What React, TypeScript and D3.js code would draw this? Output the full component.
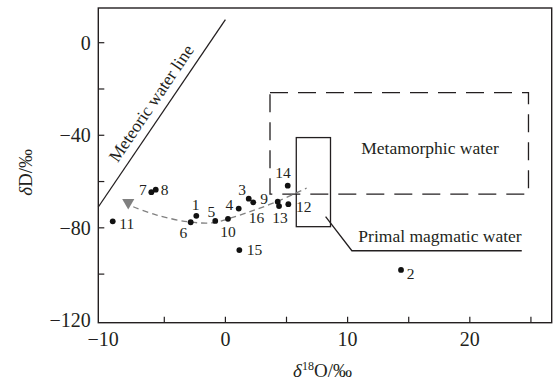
import * as d3 from 'd3'
import { useRef, useEffect } from 'react'

const W = 555, H = 383
const M = { top: 8, right: 3.3, bottom: 60.3, left: 98.3 }
const FONT = '"Liberation Serif", "Times New Roman", serif'
const INK = '#231f20'
const GREY = '#808080'

// samples: δ18O (‰) and δD (‰)
const SAMPLES = ['1', '2', '3', '4', '5', '6', '7', '8', '9', '10', '11', '12', '13', '14', '15', '16']
const D18O = [-2.38, 14.37, 1.91, 1.09, -0.83, -2.84, -6.06, -5.7, 4.28, 0.21, -9.22, 5.15, 4.39, 5.1, 1.14, 2.28]
const DD = [-74.8, -98.2, -67.4, -71.7, -77.0, -77.6, -64.6, -63.5, -68.7, -76.1, -77.2, -69.8, -70.6, -61.8, -89.6, -69.0]

// label placement next to each dot: [anchor, dx, dy] in px
const LABEL_POS: [string, number, number][] = [
  ['middle', -0.6, -5.7], ['start', 5.7, 9.3], ['end', -2.7, -3.4], ['end', -5.4, 1.3],
  ['middle', -4, -4.3], ['middle', -7.4, 15.4], ['end', -4.6, 2.4], ['start', 5, 5],
  ['end', -9.7, 2.3], ['middle', 0, 18.6], ['start', 6.6, 7.7], ['start', 7.7, 7.4],
  ['middle', 1, 17.3], ['middle', -4.7, -7.4], ['start', 7.4, 5], ['start', -4.6, 21],
]

// grey triangle (starting water) and evolution trend
const START_X = -7.95, START_Y = -69.1
const TREND_X = [-7.54, -5.62, -2.9, -0.99, 0.11, 2.01, 4.2, 6.65]
const TREND_Y = [-70.9, -74.5, -77.5, -77.8, -76.3, -73.0, -68.7, -62.8]

const METEORIC_X = [-10.4, 0]
const METEORIC_Y = [-71, 10]

const METAMORPHIC_X = [3.65, 24.8]
const METAMORPHIC_Y = [-65.4, -21.6]
const MAGMATIC_X = [5.8, 8.6]
const MAGMATIC_Y = [-79.5, -41]
const LEADER_X = [8.2, 10.35, 24.25]
const LEADER_Y = [-75.2, -89.9, -89.9]

const X_TICKS = [-5, 0, 5, 10, 15, 20, 25]
const X_LABELS = [-10, 0, 10, 20]
const Y_TICKS = [-100, -80, -60, -40, -20, 0]
const Y_LABELS = [-120, -80, -40, 0]

const fmt = (v: number) => (v < 0 ? '\u2212' + Math.abs(v) : String(v))

export default function App() {
  const svgRef = useRef<SVGSVGElement>(null)

  useEffect(() => {
    const svg = d3.select(svgRef.current)
    svg.selectAll('*').remove()

    const x = d3.scaleLinear().domain([-10.4, 26.7]).range([M.left, W - M.right])
    const y = d3.scaleLinear().domain([-121, 15]).range([H - M.bottom, M.top])

    // ticks (inward)
    X_TICKS.forEach((t) => svg.append('line').attr('x1', x(t)).attr('x2', x(t)).attr('y1', H - M.bottom).attr('y2', H - M.bottom - 6)
      .attr('stroke', INK).attr('stroke-width', 1.2))
    Y_TICKS.forEach((t) => svg.append('line').attr('x1', M.left).attr('x2', M.left + 6).attr('y1', y(t)).attr('y2', y(t))
      .attr('stroke', INK).attr('stroke-width', 1.2))

    X_LABELS.forEach((t) => svg.append('text').attr('x', x(t)).attr('y', 346).attr('text-anchor', 'middle')
      .attr('font-family', FONT).attr('font-size', 20).attr('fill', INK).text(fmt(t)))
    Y_LABELS.forEach((t) => svg.append('text').attr('x', M.left - 7.5).attr('y', y(t)).attr('dy', '0.34em').attr('text-anchor', 'end')
      .attr('font-family', FONT).attr('font-size', 20).attr('fill', INK).text(fmt(t)))

    // frame
    svg.append('rect').attr('x', M.left).attr('y', M.top).attr('width', W - M.left - M.right).attr('height', H - M.top - M.bottom)
      .attr('fill', 'none').attr('stroke', INK).attr('stroke-width', 1.4)

    // axis titles
    const xt = svg.append('text').attr('x', 322.5).attr('y', 376.5).attr('text-anchor', 'middle')
      .attr('font-family', FONT).attr('font-size', 19).attr('fill', INK)
    xt.append('tspan').attr('font-style', 'italic').text('δ')
    xt.append('tspan').attr('font-size', 12).attr('dy', -7).text('18')
    xt.append('tspan').attr('dy', 7).text('O/‰')

    const yt = svg.append('text').attr('transform', 'translate(31.5,172.3) rotate(-90)').attr('text-anchor', 'middle')
      .attr('font-family', FONT).attr('font-size', 19).attr('fill', INK)
    yt.append('tspan').attr('font-style', 'italic').text('δ')
    yt.append('tspan').text('D/‰')

    // meteoric water line
    const mx0 = x(METEORIC_X[0]), my0 = y(METEORIC_Y[0]), mx1 = x(METEORIC_X[1]), my1 = y(METEORIC_Y[1])
    svg.append('line').attr('x1', mx0).attr('y1', my0).attr('x2', mx1).attr('y2', my1).attr('stroke', INK).attr('stroke-width', 1.3)
    const ang = (Math.atan2(my1 - my0, mx1 - mx0) * 180) / Math.PI
    const fx = mx0 + (mx1 - mx0) * 0.51, fy = my0 + (my1 - my0) * 0.51
    svg.append('text').attr('transform', `translate(${fx},${fy}) rotate(${ang})`).attr('dy', -8.5).attr('text-anchor', 'middle')
      .attr('font-family', FONT).attr('font-size', 17.5).attr('fill', INK).text('Meteoric water line')

    // metamorphic water box (dashed)
    svg.append('rect').attr('x', x(METAMORPHIC_X[0])).attr('y', y(METAMORPHIC_Y[1]))
      .attr('width', x(METAMORPHIC_X[1]) - x(METAMORPHIC_X[0])).attr('height', y(METAMORPHIC_Y[0]) - y(METAMORPHIC_Y[1]))
      .attr('fill', 'none').attr('stroke', INK).attr('stroke-width', 1.3).attr('stroke-dasharray', '18 10')
    svg.append('text').attr('x', x(16.74)).attr('y', y(-48.1)).attr('text-anchor', 'middle')
      .attr('font-family', FONT).attr('font-size', 17.5).attr('fill', INK).text('Metamorphic water')

    // primary magmatic water box
    svg.append('rect').attr('x', x(MAGMATIC_X[0])).attr('y', y(MAGMATIC_Y[1]))
      .attr('width', x(MAGMATIC_X[1]) - x(MAGMATIC_X[0])).attr('height', y(MAGMATIC_Y[0]) - y(MAGMATIC_Y[1]))
      .attr('fill', 'none').attr('stroke', INK).attr('stroke-width', 1.3)
    const leader = d3.line<number>().x((d) => x(d)).y((_, i) => y(LEADER_Y[i]))
    svg.append('path').attr('d', leader(LEADER_X)).attr('fill', 'none').attr('stroke', INK).attr('stroke-width', 1.3)
    svg.append('text').attr('x', x(10.88)).attr('y', y(-86)).attr('font-family', FONT).attr('font-size', 17.5).attr('fill', INK)
      .text('Primal magmatic water')

    // evolution trend (dashed grey curve)
    const trend = d3.line<number>().x((d) => x(d)).y((_, i) => y(TREND_Y[i])).curve(d3.curveCatmullRom)
    svg.append('path').attr('d', trend(TREND_X)).attr('fill', 'none').attr('stroke', GREY).attr('stroke-width', 1.3)
      .attr('stroke-dasharray', '6 4')

    svg.append('path').attr('d', d3.symbol(d3.symbolTriangle, 64)())
      .attr('transform', `translate(${x(START_X)},${y(START_Y)}) rotate(180)`).attr('fill', GREY)

    // samples
    SAMPLES.forEach((id, i) => {
      const cx = x(D18O[i]), cy = y(DD[i])
      svg.append('circle').attr('cx', cx).attr('cy', cy).attr('r', 2.9).attr('fill', '#111')
      const [anchor, dx, dy] = LABEL_POS[i]
      svg.append('text').attr('x', cx + dx).attr('y', cy + dy).attr('text-anchor', anchor)
        .attr('font-family', FONT).attr('font-size', 15.5).attr('fill', INK).text(id)
    })
  }, [])

  return (
    <svg ref={svgRef} width={W} height={H} viewBox={`0 0 ${W} ${H}`}
      style={{ position: 'absolute', left: 0, top: 0, background: '#fff' }} />
  )
}
